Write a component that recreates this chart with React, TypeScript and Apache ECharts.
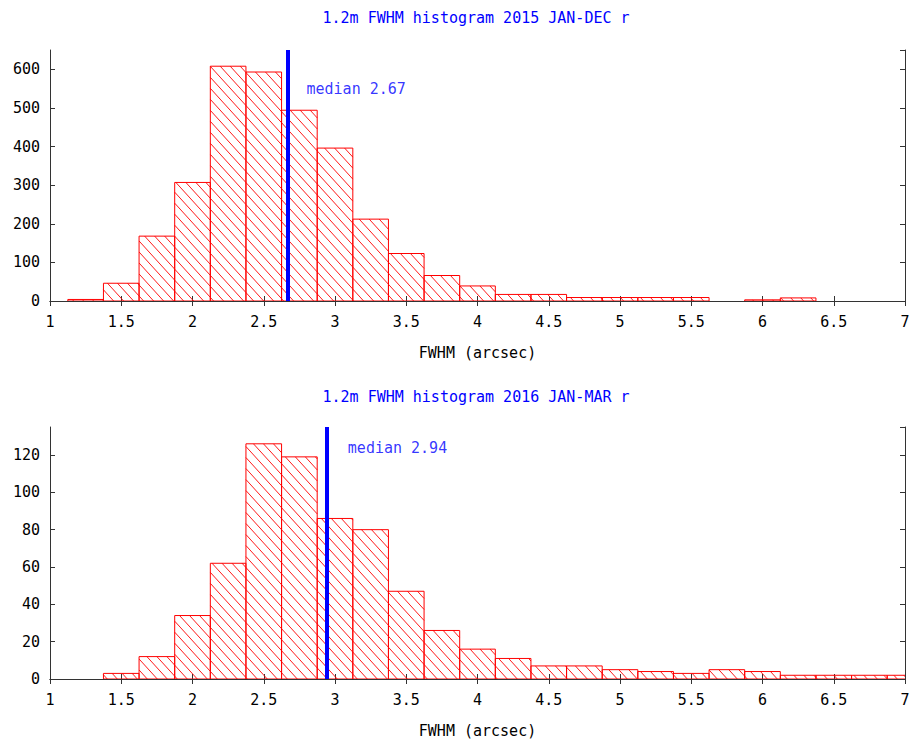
import React, { useEffect, useRef } from "react";
import * as echarts from "echarts";

const BIN_WIDTH = 0.25;

const centers2015 = [1.25, 1.5, 1.75, 2.0, 2.25, 2.5, 2.75, 3.0, 3.25, 3.5, 3.75, 4.0, 4.25, 4.5, 4.75, 5.0, 5.25, 5.5, 5.75, 6.0, 6.25];
const counts2015 = [4, 46, 168, 307, 608, 593, 494, 396, 212, 123, 66, 39, 17, 17, 9, 9, 9, 9, 0, 3, 8];
const median2015 = 2.67;

const centers2016 = [1.5, 1.75, 2.0, 2.25, 2.5, 2.75, 3.0, 3.25, 3.5, 3.75, 4.0, 4.25, 4.5, 4.75, 5.0, 5.25, 5.5, 5.75, 6.0, 6.25, 6.5, 6.75, 7.0];
const counts2016 = [3, 12, 34, 62, 126, 119, 86, 80, 47, 26, 16, 11, 7, 7, 5, 4, 3, 5, 4, 2, 2, 2, 2];
const median2016 = 2.94;

const titles = ["1.2m FWHM histogram 2015 JAN-DEC r", "1.2m FWHM histogram 2016 JAN-MAR r"];
const xTitle = "FWHM (arcsec)";

const FONT = "'DejaVu Sans Mono', monospace";
const RED = "#ff0000";
const BLUE = "#0000ff";
const AXIS = "#333333";

function binData(centers: number[], counts: number[]) {
  return centers.map((c, i) => [c - BIN_WIDTH / 2, c + BIN_WIDTH / 2, counts[i]]);
}

function renderBin(params: any, api: any) {
  const x0 = api.value(0);
  const x1 = api.value(1);
  const v = api.value(2);
  if (!v) return { type: "group", children: [] };
  const p0 = api.coord([x0, v]);
  const p1 = api.coord([x1, 0]);
  const left = p0[0], top = p0[1], right = p1[0], bottom = p1[1];
  const children: any[] = [];
  const k = 1.1; // slope of hatch lines (screen coords, going down-right)
  const step = 11; // vertical spacing between hatch lines
  const cMin = top - k * right;
  const cMax = bottom - k * left;
  const cStart = Math.floor(cMin / step) * step;
  for (let c = cStart; c <= cMax; c += step) {
    const xa = Math.max(left, (top - c) / k);
    const xb = Math.min(right, (bottom - c) / k);
    if (xb > xa) {
      children.push({
        type: "line",
        shape: { x1: xa, y1: k * xa + c, x2: xb, y2: k * xb + c },
        style: { stroke: RED, lineWidth: 0.9 },
      });
    }
  }
  children.push({
    type: "rect",
    shape: { x: left, y: top, width: right - left, height: bottom - top },
    style: { fill: "none", stroke: RED, lineWidth: 1 },
  });
  return { type: "group", children };
}

function xAxes(gridIndex: number) {
  const base = {
    type: "value",
    gridIndex,
    min: 1,
    max: 7,
    interval: 0.5,
    splitLine: { show: false },
    axisLine: { show: true, lineStyle: { color: AXIS, width: 1 } },
    axisTick: { show: true, inside: true, length: 5, lineStyle: { color: AXIS } },
  };
  return [
    {
      ...base,
      position: "bottom",
      name: xTitle,
      nameLocation: "middle",
      nameGap: 44,
      nameTextStyle: { fontFamily: FONT, fontSize: 15, color: "#000" },
      axisLabel: { fontFamily: FONT, fontSize: 15, color: "#000", margin: 13 },
    },
    { ...base, position: "top", axisLabel: { show: false } },
  ];
}

function yAxes(gridIndex: number, max: number, interval: number) {
  const base = {
    type: "value",
    gridIndex,
    min: 0,
    max,
    interval,
    splitLine: { show: false },
    axisLine: { show: true, lineStyle: { color: AXIS, width: 1 } },
    axisTick: { show: true, inside: true, length: 5, lineStyle: { color: AXIS } },
  };
  return [
    {
      ...base,
      position: "left",
      axisLabel: {
        fontFamily: FONT,
        fontSize: 15,
        color: "#000",
        margin: 10,
        showMaxLabel: false,
        formatter: (v: number) => (v % interval === 0 ? String(v) : ""),
      },
    },
    { ...base, position: "right", axisLabel: { show: false } },
  ];
}

export default function App() {
  const ref = useRef<HTMLDivElement>(null);
  useEffect(() => {
    document.body.style.margin = "0";
    const chart = echarts.init(ref.current!, null, { renderer: "svg" });
    const option: any = {
      animation: false,
      backgroundColor: "#ffffff",
      title: [
        {
          text: titles[0],
          left: 476,
          top: 10,
          textAlign: "center",
          padding: 0,
          textStyle: { fontFamily: FONT, fontSize: 15, color: BLUE, fontWeight: "normal" },
        },
        {
          text: titles[1],
          left: 476,
          top: 389,
          textAlign: "center",
          padding: 0,
          textStyle: { fontFamily: FONT, fontSize: 15, color: BLUE, fontWeight: "normal" },
        },
      ],
      grid: [
        { left: 50, top: 50, width: 855, height: 251 },
        { left: 50, top: 427, width: 855, height: 252 },
      ],
      xAxis: [...xAxes(0), ...xAxes(1)],
      yAxis: [...yAxes(0, 650, 100), ...yAxes(1, 135, 20)],
      series: [
        {
          type: "custom",
          xAxisIndex: 0,
          yAxisIndex: 0,
          clip: true,
          renderItem: renderBin,
          encode: { x: [0, 1], y: 2 },
          data: binData(centers2015, counts2015),
          silent: true,
          markLine: {
            silent: true,
            symbol: "none",
            label: { show: false },
            lineStyle: { color: BLUE, width: 4, type: "solid" },
            data: [{ xAxis: median2015 }],
          },
        },
        {
          type: "scatter",
          xAxisIndex: 0,
          yAxisIndex: 0,
          symbolSize: 0,
          silent: true,
          data: [[median2015 + 0.13, 548]],
          label: {
            show: true,
            position: "right",
            distance: 0,
            formatter: "median " + median2015.toFixed(2),
            fontFamily: FONT,
            fontSize: 15,
            color: BLUE,
          },
        },
        {
          type: "custom",
          xAxisIndex: 2,
          yAxisIndex: 2,
          clip: true,
          renderItem: renderBin,
          encode: { x: [0, 1], y: 2 },
          data: binData(centers2016, counts2016),
          silent: true,
          markLine: {
            silent: true,
            symbol: "none",
            label: { show: false },
            lineStyle: { color: BLUE, width: 4, type: "solid" },
            data: [{ xAxis: median2016 }],
          },
        },
        {
          type: "scatter",
          xAxisIndex: 2,
          yAxisIndex: 2,
          symbolSize: 0,
          silent: true,
          data: [[median2016 + 0.15, 124]],
          label: {
            show: true,
            position: "right",
            distance: 0,
            formatter: "median " + median2016.toFixed(2),
            fontFamily: FONT,
            fontSize: 15,
            color: BLUE,
          },
        },
      ],
    };
    chart.setOption(option);
    return () => chart.dispose();
  }, []);
  return <div ref={ref} style={{ width: 913, height: 740 }} />;
}
